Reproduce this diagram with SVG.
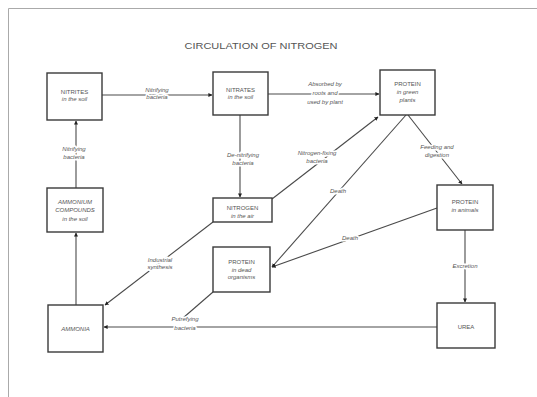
<svg xmlns="http://www.w3.org/2000/svg" width="537" height="397" viewBox="0 0 537 397">
<style>
.box{fill:#fff;stroke:#3a3a3a;stroke-width:1.4}
.ln{fill:none;stroke:#4a4a4a;stroke-width:1.1}
.bt{font-family:"Liberation Sans",Arial,sans-serif;font-size:6px;fill:#555;text-anchor:middle}
.it{font-style:italic}
.lb{font-family:"Liberation Sans",Arial,sans-serif;font-size:6px;font-style:italic;fill:#555;text-anchor:middle;stroke:#fff;stroke-width:3;paint-order:stroke;stroke-linejoin:round}
.frame{fill:none;stroke:#aaa;stroke-width:1}
</style>
<defs>
<marker id="ah" viewBox="0 0 10 10" refX="9" refY="5" markerWidth="4" markerHeight="4" orient="auto" markerUnits="userSpaceOnUse">
<path d="M0,0 L10,5 L0,10 z" fill="#222"/>
</marker>
</defs>
<rect width="537" height="397" fill="#fff"/>
<path class="frame" d="M8.5,397 V8.5 H537"/>
<text x="261" y="49" font-family="Liberation Sans,Arial,sans-serif" font-size="9.5" fill="#555" text-anchor="middle" textLength="153" lengthAdjust="spacingAndGlyphs">CIRCULATION OF NITROGEN</text>

<g id="connectors">
<line class="ln" x1="102" y1="95" x2="212" y2="95" marker-end="url(#ah)"/>
<line class="ln" x1="268" y1="94" x2="379" y2="94" marker-end="url(#ah)"/>
<line class="ln" x1="240" y1="115" x2="240" y2="197" marker-end="url(#ah)"/>
<line class="ln" x1="272" y1="199" x2="378" y2="117" marker-end="url(#ah)"/>
<line class="ln" x1="406" y1="115" x2="272" y2="267" marker-end="url(#ah)"/>
<line class="ln" x1="408" y1="115" x2="462" y2="184" marker-end="url(#ah)"/>
<line class="ln" x1="437" y1="208" x2="272" y2="267" marker-end="url(#ah)"/>
<line class="ln" x1="465" y1="230" x2="465" y2="302" marker-end="url(#ah)"/>
<line class="ln" x1="437" y1="327" x2="104" y2="327" marker-end="url(#ah)"/>
<line class="ln" x1="213" y1="292" x2="183" y2="318"/>
<line class="ln" x1="213" y1="222" x2="105" y2="305" marker-end="url(#ah)"/>
<line class="ln" x1="76" y1="305" x2="76" y2="233" marker-end="url(#ah)"/>
<line class="ln" x1="76" y1="188" x2="76" y2="121" marker-end="url(#ah)"/>
<text class="lb" x="157" y="92">Nitrifying</text>
<text class="lb" x="157" y="99">bacteria</text>
<text class="lb" x="325" y="86">Absorbed by</text>
<text class="lb" x="325" y="95">roots and</text>
<text class="lb" x="325" y="104">used by plant</text>
<text class="lb" x="243" y="157">De-nitrifying</text>
<text class="lb" x="243" y="165">bacteria</text>
<text class="lb" x="317" y="155">Nitrogen-fixing</text>
<text class="lb" x="317" y="163">bacteria</text>
<text class="lb" x="338" y="193">Death</text>
<text class="lb" x="437" y="149">Feeding and</text>
<text class="lb" x="437" y="157">digestion</text>
<text class="lb" x="350" y="240">Death</text>
<text class="lb" x="465" y="268">Excretion</text>
<text class="lb" x="185" y="321">Putrefying</text>
<text class="lb" x="185" y="330">bacteria</text>
<text class="lb" x="160" y="262">Industrial</text>
<text class="lb" x="160" y="269">synthesis</text>
<text class="lb" x="74" y="151">Nitrifying</text>
<text class="lb" x="74" y="159">bacteria</text>
</g>

<g id="nitrites">
<rect class="box" x="47" y="73" width="55" height="47"/>
<text class="bt" x="74.5" y="94">NITRITES</text>
<text class="bt it" x="74.5" y="101">in the soil</text>
</g>
<g id="nitrates">
<rect class="box" x="213" y="72" width="55" height="43"/>
<text class="bt" x="240.5" y="92">NITRATES</text>
<text class="bt it" x="240.5" y="99">in the soil</text>
</g>
<g id="protein-plants">
<rect class="box" x="380" y="70" width="55" height="45"/>
<text class="bt" x="407.5" y="86">PROTEIN</text>
<text class="bt it" x="407.5" y="94">in green</text>
<text class="bt it" x="407.5" y="102">plants</text>
</g>
<g id="nitrogen-air">
<rect class="box" x="213" y="198" width="59" height="24"/>
<text class="bt" x="242.5" y="210">NITROGEN</text>
<text class="bt it" x="242.5" y="218">in the air</text>
</g>
<g id="ammonium">
<rect class="box" x="47" y="188" width="56" height="44"/>
<text class="bt it" x="75" y="204">AMMONIUM</text>
<text class="bt it" x="75" y="212">COMPOUNDS</text>
<text class="bt it" x="75" y="221">in the soil</text>
</g>
<g id="protein-animals">
<rect class="box" x="437" y="185" width="56" height="45"/>
<text class="bt" x="465" y="204">PROTEIN</text>
<text class="bt it" x="465" y="212">in animals</text>
</g>
<g id="protein-dead">
<rect class="box" x="213" y="247" width="57" height="45"/>
<text class="bt" x="241.5" y="264">PROTEIN</text>
<text class="bt it" x="241.5" y="272">in dead</text>
<text class="bt it" x="241.5" y="279">organisms</text>
</g>
<g id="ammonia">
<rect class="box" x="48" y="305" width="55" height="47"/>
<text class="bt it" x="75.5" y="331">AMMONIA</text>
</g>
<g id="urea">
<rect class="box" x="437" y="303" width="58" height="45"/>
<text class="bt" x="466" y="329">UREA</text>
</g>
</svg>
